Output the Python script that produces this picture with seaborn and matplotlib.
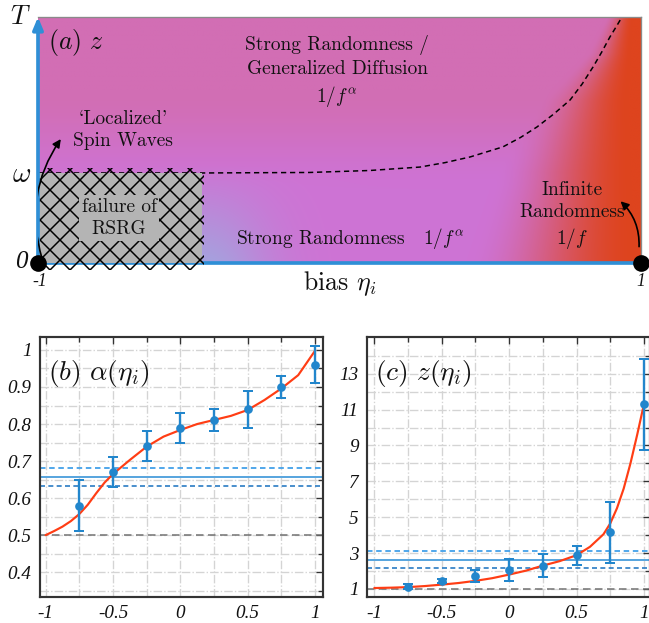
import numpy as np
import matplotlib
matplotlib.use("Agg")
import matplotlib.pyplot as plt
import seaborn as sns
from matplotlib.patches import Rectangle, FancyArrowPatch
from matplotlib.ticker import FixedLocator

# ---- data ----
# (a) phase diagram: dashed crossover curve T(eta)
cross_x = [-1, -0.45, -0.1, 0.1, 0.267, 0.35, 0.433, 0.542, 0.6, 0.655, 0.71, 0.765, 0.805, 0.841, 0.87, 0.897, 0.92, 0.937]
cross_T = [0.366, 0.366, 0.368, 0.376, 0.390, 0.408, 0.431, 0.472, 0.51, 0.553, 0.605, 0.663, 0.728, 0.797, 0.858, 0.919, 0.965, 1.0]
omega = 0.366
rsrg_eta = -0.456

# (b) alpha(eta)
alpha_fit_x = [-1, -0.9375, -0.875, -0.8125, -0.75, -0.6875, -0.625, -0.5625, -0.5, -0.375, -0.25, -0.125, 0,
               0.125, 0.25, 0.375, 0.5, 0.625, 0.75, 0.875, 1]
alpha_fit_y = [0.500, 0.511, 0.523, 0.538, 0.557, 0.582, 0.613, 0.642, 0.665, 0.703, 0.739, 0.766, 0.784,
               0.800, 0.811, 0.822, 0.838, 0.865, 0.896, 0.932, 0.998]
eta_pts = [-0.75, -0.5, -0.25, 0, 0.25, 0.5, 0.75, 1]
alpha_pts = [0.58, 0.67, 0.74, 0.79, 0.81, 0.84, 0.90, 0.96]
alpha_err = [0.07, 0.04, 0.04, 0.04, 0.03, 0.05, 0.03, 0.05]
alpha_band = [0.634, 0.656, 0.682]
alpha_ref = 0.5

# (c) z(eta)
z_fit_x = [-1, -0.875, -0.75, -0.625, -0.5, -0.375, -0.25, -0.125, 0, 0.125, 0.25, 0.375, 0.5, 0.6, 0.7, 0.75, 0.8, 0.85, 0.9, 0.95, 1.0]
z_fit_y = [1.05, 1.07, 1.10, 1.16, 1.24, 1.33, 1.45, 1.60, 1.80, 2.02, 2.30, 2.55, 2.88, 3.35, 4.05, 4.65, 5.5, 6.6, 8.0, 9.6, 11.3]
z_pts = [1.13, 1.43, 1.73, 2.06, 2.30, 2.88, 4.17, 11.29]
z_err = [0.12, 0.10, 0.33, 0.60, 0.65, 0.52, 1.70, 2.52]
z_band = [2.17, 2.62, 3.09]
z_ref = 1.0

xtick_vals = [-1, -0.5, 0, 0.5, 1]
xtick_labels = ["-1", "-0.5", "0", "0.5", "1"]
alpha_ticks = [0.4, 0.5, 0.6, 0.7, 0.8, 0.9, 1.0]
alpha_labels = ["0.4", "0.5", "0.6", "0.7", "0.8", "0.9", "1"]
z_ticks = [1, 3, 5, 7, 9, 11, 13]
z_labels = ["1", "3", "5", "7", "9", "11", "13"]

sns.set_style("white")
plt.rcParams["font.family"] = ["cmr10", "DejaVu Serif"]
plt.rcParams["mathtext.fontset"] = "cm"
plt.rcParams["axes.unicode_minus"] = False
plt.rcParams["hatch.linewidth"] = 0.9
plt.rcParams["text.color"] = "#111111"
plt.rcParams["xtick.color"] = "#111111"
plt.rcParams["ytick.color"] = "#111111"

W, H, DPI = 649, 623, 120
fig = plt.figure(figsize=(W / DPI, H / DPI), dpi=DPI)

# ---------------- (a) ----------------
ax = fig.add_axes([38 / W, 1 - 263 / H, 603 / W, 246 / H])


def smooth(t):
    t = np.clip(t, 0, 1)
    return t * t * (3 - 2 * t)


gx, gT = np.meshgrid(np.linspace(-1, 1, 600), np.linspace(0, 1, 300))
pink = np.array([210, 110, 180]) / 255
violet = np.array([206, 115, 212]) / 255
blue = np.array([165, 162, 222]) / 255
red = np.array([222, 68, 30]) / 255
tv = smooth((gT - 0.3) / 0.4)[..., None]
col = violet * (1 - tv) + pink * tv
wb = (np.exp(-((gx - rsrg_eta) / 0.22) ** 2) * np.clip(1 - gT / 0.4, 0, 1))[..., None]
col = col * (1 - wb) + blue * wb
a_T = np.interp(gT, [0, 0.37, 0.66, 0.85, 1], [0.42, 0.52, 0.67, 0.82, 0.885])
b_T = np.interp(gT, [0, 0.66, 1], [0.98, 0.96, 0.975])
wr = smooth((gx - a_T) / (b_T - a_T))[..., None]
col = col * (1 - wr) + red * wr
ax.imshow(col, extent=[-1, 1, 0, 1], origin="lower", aspect="auto", interpolation="bilinear", zorder=0)
ax.set_xlim(-1, 1)
ax.set_ylim(0, 1)
ax.set_xticks([])
ax.set_yticks([])
for s in ["top", "right"]:
    ax.spines[s].set_color("#8a8a8a")
    ax.spines[s].set_linewidth(0.8)
ax.spines["left"].set_visible(False)
ax.spines["bottom"].set_color("#2f8fd6")
ax.spines["bottom"].set_linewidth(2.2)
ax.annotate("", xy=(-1, 1.0), xytext=(-1, 0), xycoords="data",
            arrowprops=dict(arrowstyle="-|>,head_length=0.6,head_width=0.25", color="#2f8fd6", lw=2.2,
                            shrinkA=0, shrinkB=0), annotation_clip=False, zorder=5)

sns.lineplot(x=cross_x, y=cross_T, ax=ax, color="k", lw=0.9, linestyle=(0, (3.5, 2.5)), zorder=2)

ax.add_patch(Rectangle((-1, 0), rsrg_eta + 1, omega, facecolor="#b4b4b4", edgecolor="none", zorder=3, clip_on=False))
ax.add_patch(Rectangle((-1, -0.028), rsrg_eta + 1.006, omega + 0.05, facecolor="none", edgecolor="black",
                       hatch="xx", lw=0, zorder=3, clip_on=False))

ax.plot([-1, 1], [0, 0], "o", color="black", ms=9, clip_on=False, zorder=6)

fs = 11.6
ax.text(-0.008, 0.776, "Strong Randomness /\nGeneralized Diffusion\n$1/f^{\\alpha}$", ha="center", va="center",
        fontsize=fs, linespacing=1.35, zorder=4)
ax.text(-0.718, 0.541, "`Localized'\nSpin Waves", ha="center", va="center", fontsize=fs, linespacing=1.3, zorder=4)
ax.text(-0.731, 0.183, "failure of\nRSRG", ha="center", va="center", fontsize=fs, linespacing=1.3, zorder=4,
        bbox=dict(facecolor="#b4b4b4", edgecolor="none", pad=1.5))
ax.text(0.035, 0.098, "Strong Randomness   $1/f^{\\alpha}$", ha="center", va="center", fontsize=fs, zorder=4)
ax.text(0.771, 0.191, "Infinite\nRandomness\n$1/f$", ha="center", va="center", fontsize=fs, linespacing=1.3, zorder=4)
ax.text(-0.967, 0.898, "$(a)\\ z$", ha="left", va="center", fontsize=15.5, zorder=4)

ax.add_patch(FancyArrowPatch((-0.983, 0.004), (-0.918, 0.515), connectionstyle="arc3,rad=-0.25",
                             arrowstyle="-|>,head_length=4,head_width=2", color="black", lw=1.0, zorder=5))
ax.add_patch(FancyArrowPatch((0.993, 0.053), (0.924, 0.260), connectionstyle="arc3,rad=0.25",
                             arrowstyle="-|>,head_length=4,head_width=2", color="black", lw=1.0, zorder=5))

ax.text(-1.06, 1.0, "$T$", ha="center", va="center", fontsize=16, clip_on=False)
ax.text(-1.055, 0.358, "$\\omega$", ha="center", va="center", fontsize=17, clip_on=False)
ax.text(-1.055, 0.004, "0", ha="center", va="center", fontsize=15, fontfamily="Liberation Serif",
        style="italic", clip_on=False)
ax.text(-0.995, -0.075, "-1", ha="center", va="center", fontsize=10.5, fontfamily="Liberation Serif",
        style="italic", clip_on=False)
ax.text(1.0, -0.075, "1", ha="center", va="center", fontsize=10.5, fontfamily="Liberation Serif",
        style="italic", clip_on=False)
ax.text(0.002, -0.085, "bias $\\eta_i$", ha="center", va="center", fontsize=15.5, clip_on=False)


# ---------------- (b), (c) ----------------
def panel(rect, fit_x, fit_y, pts, err, band, ref, xlim, ylim, yt, yl, ymin, label):
    a = fig.add_axes(rect)
    a.set_xlim(*xlim)
    a.set_ylim(*ylim)
    a.xaxis.set_major_locator(FixedLocator(xtick_vals))
    a.xaxis.set_minor_locator(FixedLocator([-0.75, -0.25, 0.25, 0.75]))
    a.yaxis.set_major_locator(FixedLocator(yt))
    a.yaxis.set_minor_locator(FixedLocator(ymin))
    a.grid(True, which="both", ls="-.", color="#d4d4d4", lw=0.8)
    a.set_axisbelow(True)
    a.axhline(ref, color="#707070", ls=(0, (5, 3)), lw=0.9, zorder=2)
    a.axhline(band[2], color="#45a2ea", ls=(0, (3, 2)), lw=1.1, zorder=2)
    a.axhline(band[1], color="#5aa6de", lw=1.2, zorder=2)
    a.axhline(band[0], color="#2a7cc4", ls=(0, (3, 2)), lw=1.0, zorder=2)
    sns.lineplot(x=fit_x, y=fit_y, ax=a, color="#ff3d14", lw=1.3, zorder=3)
    a.errorbar(eta_pts, pts, yerr=err, fmt="o", color="#2286cc", ms=4.2, capsize=3,
               elinewidth=1.4, capthick=1.2, zorder=4)
    a.set_xticklabels(xtick_labels, fontfamily="Liberation Serif", style="italic", fontsize=11.5)
    a.set_yticklabels(yl, fontfamily="Liberation Serif", style="italic", fontsize=11.5)
    a.tick_params(which="both", direction="in", top=True, right=True, length=4, width=0.8,
                  color="#333333", pad=5)
    a.tick_params(which="minor", length=3)
    for s in a.spines.values():
        s.set_color("#333333")
        s.set_linewidth(1.3)
    a.text(0.03, 0.86, label, transform=a.transAxes, ha="left", va="center", fontsize=16.5)
    return a


panel([40 / W, 1 - 597 / H, 283 / W, 260 / H], alpha_fit_x, alpha_fit_y, alpha_pts, alpha_err,
      alpha_band, alpha_ref, (-1.042, 1.059), (0.333, 1.035), alpha_ticks, alpha_labels,
      [0.35, 0.45, 0.55, 0.65, 0.75, 0.85, 0.95], "$(b)\\ \\alpha(\\eta_i)$")
panel([367 / W, 1 - 597 / H, 283 / W, 260 / H], z_fit_x, z_fit_y, z_pts, z_err,
      z_band, z_ref, (-1.054, 1.045), (0.55, 15.05), z_ticks, z_labels,
      [2, 4, 6, 8, 10, 12, 14], "$(c)\\ z(\\eta_i)$")

fig.savefig("out.png", dpi=DPI)
